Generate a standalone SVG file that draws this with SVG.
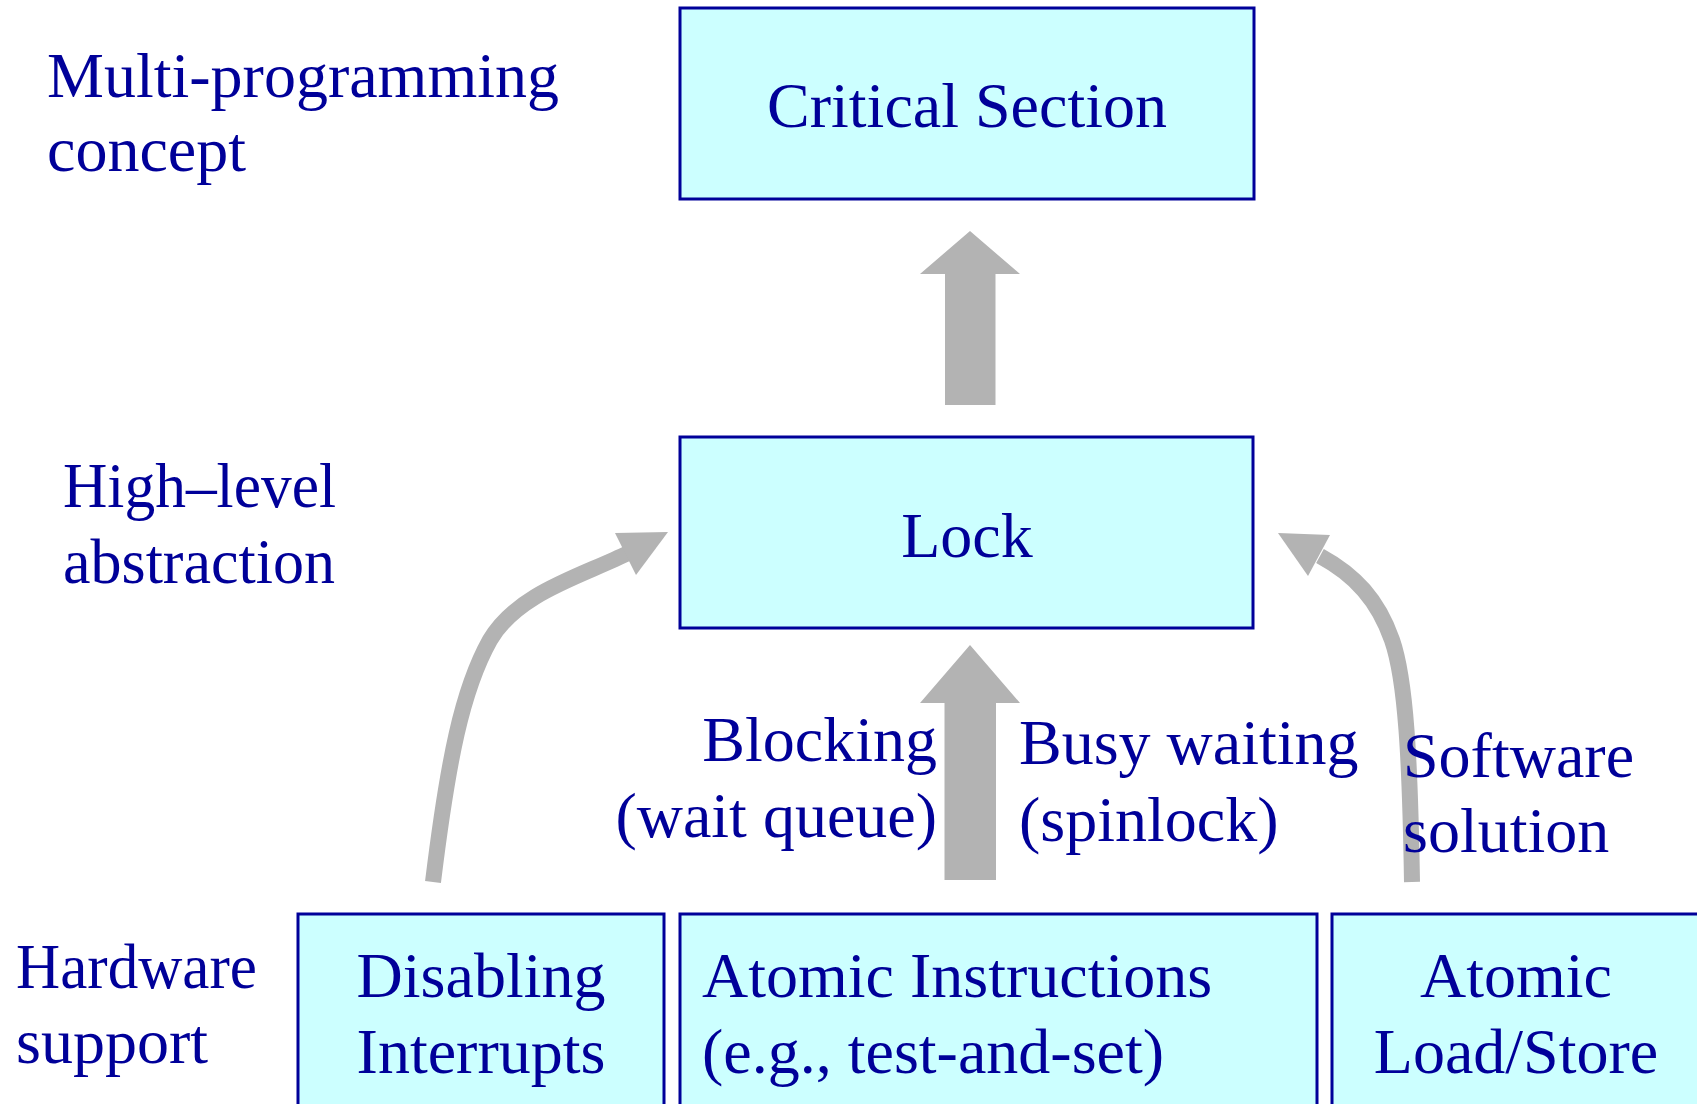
<svg xmlns="http://www.w3.org/2000/svg" width="1697" height="1104" viewBox="0 0 1697 1104">
<style>
  .box { fill: #CCFFFF; stroke: #000099; stroke-width: 3; }
  text { font-family: "Liberation Serif", "Times New Roman", serif; font-size: 64px; fill: #000099; }
  .mid { text-anchor: middle; }
  .end { text-anchor: end; }
  .flow { fill: none; stroke: #B3B3B3; stroke-width: 16; }
  .head { fill: #B3B3B3; stroke: none; }
</style>
<rect width="1697" height="1104" fill="#FFFFFF"/>

<g id="label-multiprogramming">
  <text x="47" y="97">Multi-programming</text>
  <text x="47" y="171">concept</text>
</g>
<g id="label-highlevel">
  <text x="63" y="507" textLength="273" lengthAdjust="spacingAndGlyphs">High–level</text>
  <text x="63" y="583" textLength="272" lengthAdjust="spacingAndGlyphs">abstraction</text>
</g>
<g id="label-hardware">
  <text x="16" y="988" textLength="241" lengthAdjust="spacingAndGlyphs">Hardware</text>
  <text x="16" y="1063">support</text>
</g>

<g id="node-critical-section">
  <rect class="box" x="680" y="8" width="574" height="191"/>
  <text class="mid" x="967" y="127">Critical Section</text>
</g>

<g id="node-lock">
  <rect class="box" x="680" y="437" width="573" height="191"/>
  <text class="mid" x="967" y="557">Lock</text>
</g>

<g id="node-disabling-interrupts">
  <rect class="box" x="298" y="914" width="366" height="200"/>
  <text class="mid" x="481" y="997">Disabling</text>
  <text class="mid" x="481" y="1073">Interrupts</text>
</g>

<g id="node-atomic-instructions">
  <rect class="box" x="680" y="914" width="637" height="200"/>
  <text x="702" y="997">Atomic Instructions</text>
  <text x="702" y="1073">(e.g., test-and-set)</text>
</g>

<g id="node-atomic-loadstore">
  <rect class="box" x="1332" y="914" width="380" height="200"/>
  <text class="mid" x="1516" y="997">Atomic</text>
  <text class="mid" x="1516" y="1073">Load/Store</text>
</g>

<g id="connectors">
  <polygon class="head" points="945,405 945,274 920,274 970,231 1020,274 995.5,274 995.5,405"/>
  <polygon class="head" points="944.5,880 944.5,703 920,703 970,645 1020,703 996,703 996,880"/>
  <path class="flow" d="M 433 882 C 448 760, 462 690, 490 640 C 518 592, 585 575, 628 553"/>
  <polygon class="head" points="668,532 615,533 636,575"/>
  <path class="flow" d="M 1412 882 C 1410 760, 1406 680, 1392 640 C 1378 600, 1355 575, 1320 556"/>
  <polygon class="head" points="1278,533 1330,535 1308,576"/>
</g>

<g id="edge-labels">
  <text class="end" x="937" y="761">Blocking</text>
  <text class="end" x="937" y="837">(wait queue)</text>
  <text x="1019" y="764">Busy waiting</text>
  <text x="1019" y="841">(spinlock)</text>
  <text x="1403" y="777">Software</text>
  <text x="1403" y="852">solution</text>
</g>
</svg>
